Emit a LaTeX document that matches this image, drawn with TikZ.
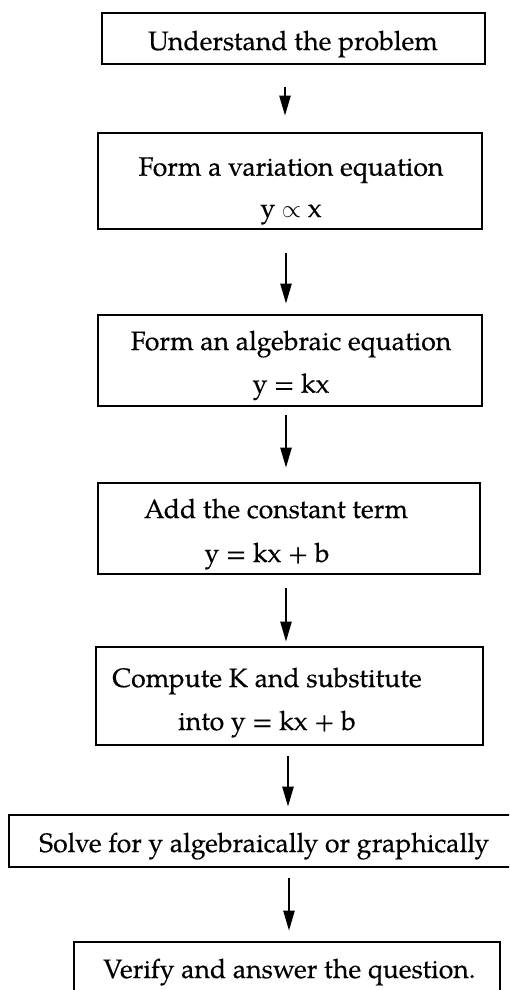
\documentclass[tikz,border=0pt]{standalone}
\usepackage{fontspec}
\setmainfont{TeX Gyre Pagella}[FakeBold=0.35]
\usetikzlibrary{arrows.meta}
\tikzset{
  box/.style={draw=black, line width=2.6pt, rectangle, inner sep=0pt, fill=none},
  txt/.style={inner sep=0pt, anchor=base, font=\fontsize{26.6pt}{31pt}\selectfont},
  txtw/.style={txt, anchor=base west},
  arr/.style={draw=black, line width=2.3pt, -{Triangle[length=20pt,width=11pt]}}
}
\begin{document}
\begin{tikzpicture}[x=1pt,y=-1pt]
\clip (0,0) rectangle (509,990);
\fill[white] (0,0) rectangle (509,990);
% boxes
\node[box, minimum width=383pt, minimum height=51pt] (b1) at (293.5,38.5) {};
\node[box, minimum width=384pt, minimum height=96pt] (b2) at (290,181) {};
\node[box, minimum width=384pt, minimum height=91pt] (b3) at (290,360.5) {};
\node[box, minimum width=382pt, minimum height=91pt] (b4) at (289,528.5) {};
\node[box, minimum width=387pt, minimum height=98pt] (b5) at (289.5,696) {};
\node[box, minimum width=521pt, minimum height=52pt] (b6) at (269.5,841) {};
\node[box, minimum width=426pt, minimum height=70pt] (b7) at (287,977) {};
% texts
\node[txt] (t1) at (293,50) {Understand the problem};
\node[txt] (t2a) at (291,175.7) {Form a variation equation};
\node[txt] (t2b) at (291,217) {y $\propto$ x};
\node[txt] (t3a) at (291,350) {Form an algebraic equation};
\node[txt] (t3b) at (291,392.7) {y = kx};
\node[txt] (t4a) at (276,518) {Add the constant term};
\node[txt] (t4b) at (267,562) {y = kx + b};
\node[txt] (t5a) at (267,687) {Compute K and substitute};
\node[txt] (t5b) at (267,730) {into y = kx + b};
\node[txtw] (t6) at (39,852) {Solve for y algebraically or graphically};
\node[txtw] (t7) at (103,978) {Verify and answer the question.};
% arrows
\draw[arr] ([xshift=-8.5pt,yshift=-22pt]b1.south) -- ([xshift=-5pt,yshift=16pt]b2.north);
\draw[arr] ([xshift=-4pt,yshift=-23pt]b2.south) -- ([xshift=-4pt,yshift=10pt]b3.north);
\draw[arr] ([xshift=-4pt,yshift=-8pt]b3.south) -- ([xshift=-3pt,yshift=14pt]b4.north);
\draw[arr] ([xshift=-3pt,yshift=-13pt]b4.south) -- ([xshift=-3.5pt,yshift=4pt]b5.north);
\draw[arr] ([xshift=-1.5pt,yshift=-10pt]b5.south) -- ([xshift=18.5pt,yshift=7pt]b6.north);
\draw[arr] ([xshift=19.5pt,yshift=-10pt]b6.south) -- ([xshift=2pt,yshift=10pt]b7.north);
\end{tikzpicture}
\end{document}
